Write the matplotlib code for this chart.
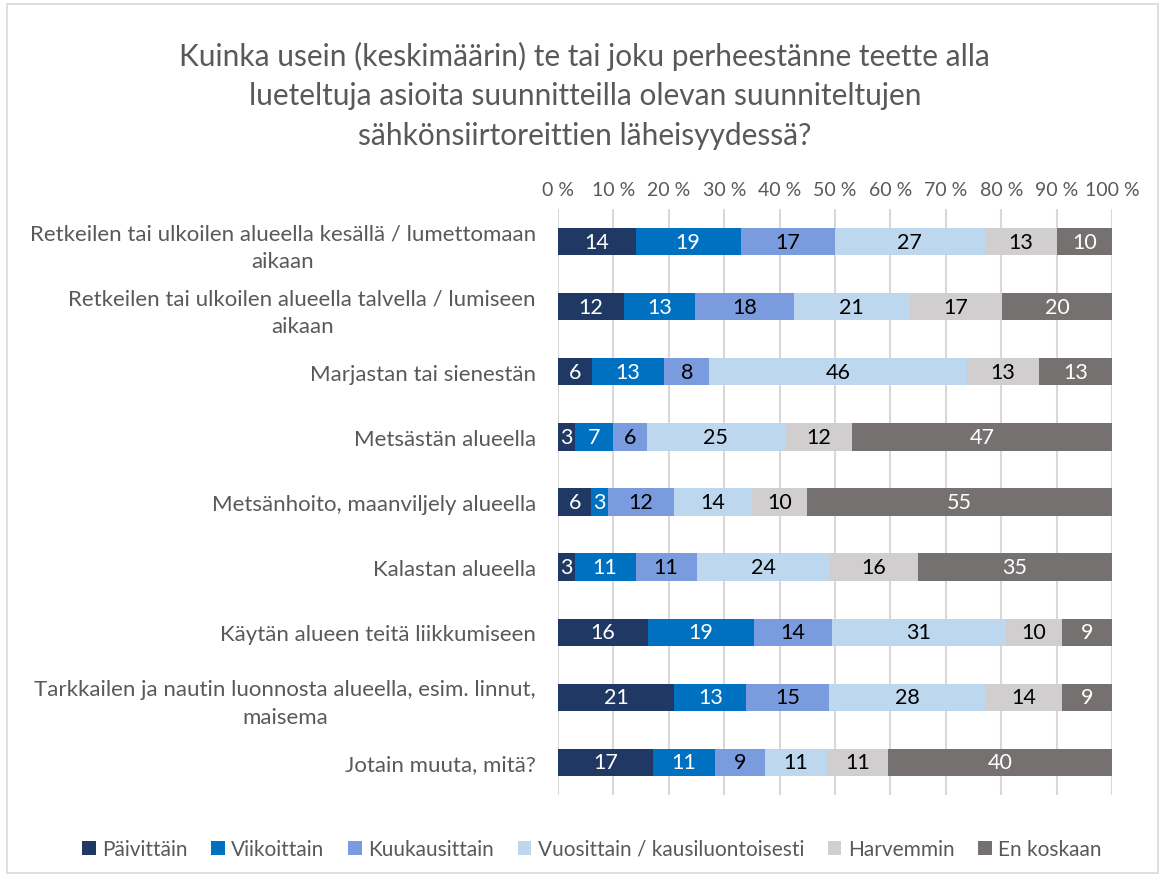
import numpy as np
import matplotlib.pyplot as plt
from matplotlib.patches import Rectangle

plt.rcParams['font.family'] = ['Lato', 'DejaVu Sans']

categories = [
    'Retkeilen tai ulkoilen alueella kesällä / lumettomaan\naikaan',
    'Retkeilen tai ulkoilen alueella talvella / lumiseen\naikaan',
    'Marjastan tai sienestän',
    'Metsästän alueella',
    'Metsänhoito, maanviljely alueella',
    'Kalastan alueella',
    'Käytän alueen teitä liikkumiseen',
    'Tarkkailen ja nautin luonnosta alueella, esim. linnut,\nmaisema',
    'Jotain muuta, mitä?',
]
series = ['Päivittäin', 'Viikoittain', 'Kuukausittain',
          'Vuosittain / kausiluontoisesti', 'Harvemmin', 'En koskaan']
paivittain = [14, 12, 6, 3, 6, 3, 16, 21, 17]
viikoittain = [19, 13, 13, 7, 3, 11, 19, 13, 11]
kuukausittain = [17, 18, 8, 6, 12, 11, 14, 15, 9]
vuosittain = [27, 21, 46, 25, 14, 24, 31, 28, 11]
harvemmin = [13, 17, 13, 12, 10, 16, 10, 14, 11]
en_koskaan = [10, 20, 13, 47, 55, 35, 9, 9, 40]

colors = ['#203864', '#0070C0', '#7A9BDD', '#BDD7EE', '#D0CECE', '#767171']
text_colors = ['white', 'white', 'black', 'black', 'black', 'white']

data = np.array([paivittain, viikoittain, kuukausittain,
                 vuosittain, harvemmin, en_koskaan], dtype=float)
shares = data / data.sum(axis=0) * 100

fig = plt.figure(figsize=(11.65, 8.79), dpi=100)
fig.patches.append(Rectangle((0.006, 0.006), 0.988, 0.988, transform=fig.transFigure,
                             fill=False, edgecolor='#D9D9D9', linewidth=1.2))
ax = fig.add_axes([0.479, 0.0944, 0.4755, 0.6667])

y = np.arange(len(categories))
left = np.zeros(len(categories))
for k, name in enumerate(series):
    bars = ax.barh(y, shares[k], left=left, height=0.42, color=colors[k],
                   label=name, zorder=3)
    for i, b in enumerate(bars):
        ax.text(left[i] + shares[k][i] / 2, y[i], '%d' % data[k][i],
                ha='center', va='center', fontsize=15.5, color=text_colors[k], zorder=4)
    left += shares[k]

ax.set_xlim(0, 100)
ax.set_ylim(len(categories) - 0.5, -0.5)
ax.set_xticks(np.arange(0, 101, 10))
ax.set_xticklabels(['%d %%' % v for v in range(0, 101, 10)])
ax.xaxis.tick_top()
ax.tick_params(axis='x', length=0, pad=8, labelsize=14, labelcolor='#595959')
ax.set_yticks(y)
ax.set_yticklabels(categories, multialignment='center')
for lbl in ax.get_yticklabels():
    lbl.set_linespacing(1.45)
ax.tick_params(axis='y', length=0, pad=16, labelsize=16, labelcolor='#595959')
ax.grid(axis='x', color='#D9D9D9', linewidth=1.5, zorder=0)
for s in ax.spines.values():
    s.set_visible(False)

fig.text(0.502, 0.891, 'Kuinka usein (keskimäärin) te tai joku perheestänne teette alla\n'
         'lueteltuja asioita suunnitteilla olevan suunniteltujen\n'
         'sähkönsiirtoreittien läheisyydessä?',
         ha='center', va='center', fontsize=21.5, color='#595959', linespacing=1.5)

fig.legend(loc='center', bbox_to_anchor=(0.508, 0.033), ncol=6, frameon=False,
           fontsize=15, labelcolor='#595959', handlelength=0.65, handleheight=0.65,
           handletextpad=0.3, columnspacing=1.15)

fig.savefig('out.png', dpi=100)
